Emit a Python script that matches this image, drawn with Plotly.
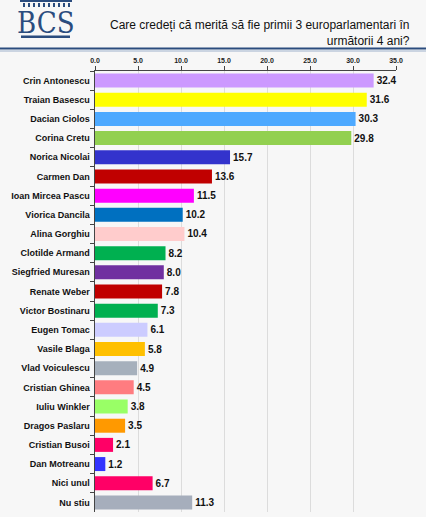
import plotly.graph_objects as go

names = [
    "Crin Antonescu", "Traian Basescu", "Dacian Ciolos", "Corina Cretu",
    "Norica Nicolai", "Carmen Dan", "Ioan Mircea Pascu", "Viorica Dancila",
    "Alina Gorghiu", "Clotilde Armand", "Siegfried Muresan", "Renate Weber",
    "Victor Bostinaru", "Eugen Tomac", "Vasile Blaga", "Vlad Voiculescu",
    "Cristian Ghinea", "Iuliu Winkler", "Dragos Paslaru", "Cristian Busoi",
    "Dan Motreanu", "Nici unul", "Nu stiu",
]
values = [
    32.4, 31.6, 30.3, 29.8, 15.7, 13.6, 11.5, 10.2, 10.4, 8.2, 8.0, 7.8,
    7.3, 6.1, 5.8, 4.9, 4.5, 3.8, 3.5, 2.1, 1.2, 6.7, 11.3,
]
bar_colors = [
    "#cc99ff", "#ffff00", "#4da9ff", "#92d050", "#3333cc", "#c00000",
    "#ff00ff", "#0070c0", "#ffcccc", "#00b050", "#7030a0", "#c00000",
    "#00b050", "#ccccff", "#ffc000", "#a6b0bc", "#ff7c80", "#99ff66",
    "#ff9900", "#ff0066", "#3333ff", "#ff0066", "#a6aebc",
]
x_ticks = [0, 5, 10, 15, 20, 25, 30, 35]

title_text = "Care credeți că merită să fie primii 3 europarlamentari în<br>următorii 4 ani?"

W, H = 426, 517
L, R, T, B = 95, 30, 71, 5
PW, PH = W - L - R, H - T - B


def fx(px):
    return (px - L) / PW


def fy(py):
    return (H - B - py) / PH


fig = go.Figure()
fig.add_trace(go.Bar(
    y=names, x=values, orientation="h",
    marker=dict(color=bar_colors, line=dict(width=0)),
    width=0.73,
    text=values, texttemplate="%{x:.1f}", textposition="outside",
    textfont=dict(family="Arial", size=10, color="#111111", weight="bold"),
    cliponaxis=False, hoverinfo="skip",
))

navy = "#2b4c7e"
shapes = []
# header rule (dark + light line)
shapes.append(dict(type="line", xref="paper", yref="paper", x0=fx(0), x1=fx(W),
                   y0=fy(48.5), y1=fy(48.5), line=dict(color=navy, width=2)))
shapes.append(dict(type="line", xref="paper", yref="paper", x0=fx(0), x1=fx(W),
                   y0=fy(51), y1=fy(51), line=dict(color="#9fb2cc", width=1)))
# logo: top band, little columns, base
shapes.append(dict(type="rect", xref="paper", yref="paper", x0=fx(20), x1=fx(72),
                   y0=fy(2), y1=fy(0), fillcolor=navy, line=dict(width=0)))
for cx in range(23, 70, 5):
    shapes.append(dict(type="rect", xref="paper", yref="paper", x0=fx(cx), x1=fx(cx + 2),
                       y0=fy(7), y1=fy(3), fillcolor=navy, line=dict(width=0)))
shapes.append(dict(type="rect", xref="paper", yref="paper", x0=fx(21), x1=fx(70),
                   y0=fy(38), y1=fy(35.5), fillcolor=navy, line=dict(width=0)))

annotations = [
    dict(text="BCS", xref="paper", yref="paper", x=fx(45.5), y=fy(23),
         xanchor="center", yanchor="middle", showarrow=False,
         font=dict(family="DejaVu Serif Condensed", size=29, color=navy)),
    dict(text=title_text, xref="paper", yref="paper", x=fx(412), y=fy(33),
         xanchor="right", yanchor="middle", align="right", showarrow=False,
         font=dict(family="Arial", size=12, color="#111111")),
]

fig.update_layout(
    width=W, height=H,
    margin=dict(l=L, r=R, t=T, b=B, autoexpand=False),
    paper_bgcolor="#f7f7f7", plot_bgcolor="rgba(0,0,0,0)",
    showlegend=False,
    shapes=shapes, annotations=annotations,
)
fig.update_xaxes(
    side="top", range=[0, 35], tickvals=x_ticks, tickformat=".1f",
    ticks="outside", ticklen=4, tickcolor="#444444",
    showline=True, linecolor="#444444", linewidth=1,
    showgrid=True, gridcolor="#dcdcdc", gridwidth=1, zeroline=False,
    tickfont=dict(family="Arial", size=7, color="#222222", weight="bold"),
    automargin=False, fixedrange=True,
)
fig.update_yaxes(
    autorange="reversed", type="category",
    ticks="outside", ticklen=4, tickson="boundaries", tickcolor="#444444",
    showline=True, linecolor="#444444", linewidth=1, showgrid=False,
    tickfont=dict(family="Arial", size=9, color="#111111", weight="bold"),
    ticksuffix=" ", automargin=False, fixedrange=True,
)

# the page's default body margin would shift the whole figure by 8px
fig.write_html("out.html", config={"displayModeBar": False},
               post_script="document.body.style.margin='0';")
